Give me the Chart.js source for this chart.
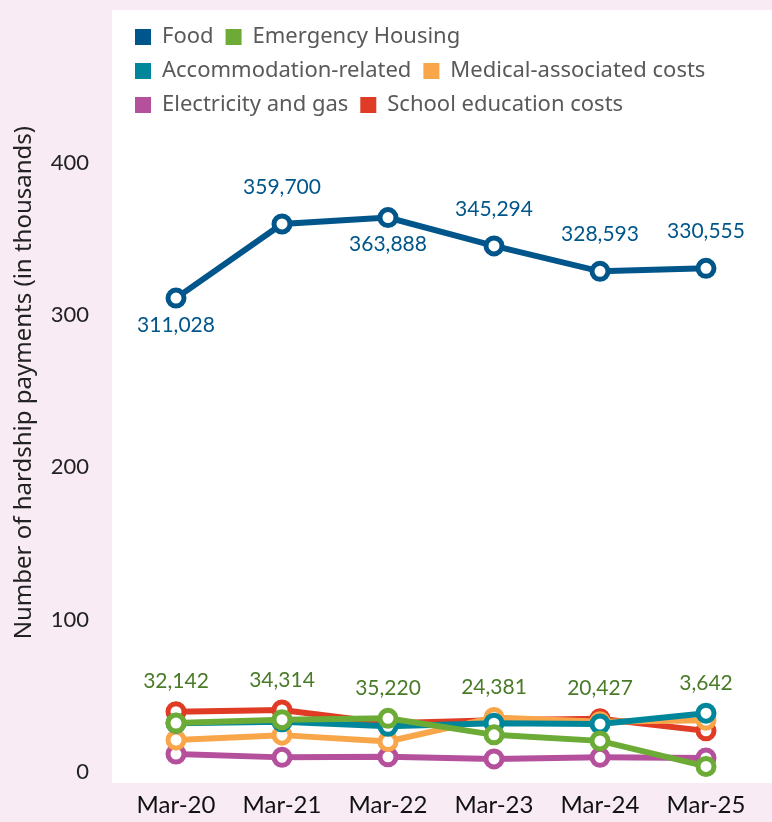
<!DOCTYPE html>
<html lang="en">
<head>
<meta charset="UTF-8">
<title>Hardship payments</title>
<script src="https://cdn.jsdelivr.net/npm/chart.js"></script>
<style>
  body { margin: 0; background: #f8ebf4; }
  canvas { display: block; }
</style>
</head>
<body>
<canvas id="hardshipChart" width="772" height="822"></canvas>
<script>
// values in thousands of payments
const years = ['Mar-20', 'Mar-21', 'Mar-22', 'Mar-23', 'Mar-24', 'Mar-25'];
const food = [311.028, 359.700, 363.888, 345.294, 328.593, 330.555];
const emergencyHousing = [32.142, 34.314, 35.220, 24.381, 20.427, 3.642];
const accommodation = [32, 33, 30, 32, 31.5, 38.6];
const medical = [21, 24.2, 20, 35.8, 33, 34];
const electricity = [11.8, 9.6, 10, 8.6, 9.6, 9.2];
const school = [39.6, 40.7, 32, 34, 35, 27];
const foodLabels = ['311,028', '359,700', '363,888', '345,294', '328,593', '330,555'];
const housingLabels = ['32,142', '34,314', '35,220', '24,381', '20,427', '3,642'];
const yTicks = [0, 100, 200, 300, 400];

const colors = {
    food: '#00568a',
    housing: '#6cab35',
    accommodation: '#00869b',
    medical: '#f9a64a',
    electricity: '#b5509c',
    school: '#e03b24'
};

function series(label, data, color) {
    return {
        label: label,
        data: data,
        borderColor: color,
        backgroundColor: color,
        borderWidth: 6,
        pointRadius: 8,
        pointHoverRadius: 8,
        pointBorderWidth: 5,
        pointBackgroundColor: '#ffffff',
        pointBorderColor: color,
        clip: false
    };
}

// white panel behind plot + legend
const panel = {
    id: 'panel',
    beforeDraw(chart) {
        const { ctx, chartArea } = chart;
        ctx.save();
        ctx.fillStyle = '#ffffff';
        ctx.fillRect(chartArea.left - 11, 10, chart.width - chartArea.left + 11, chartArea.bottom + 1);
        ctx.restore();
    }
};

// value labels for Food and Emergency Housing
const valueLabels = {
    id: 'valueLabels',
    afterDatasetsDraw(chart) {
        const ctx = chart.ctx;
        const foodMeta = chart.getDatasetMeta(0);
        const below = [true, false, true, false, false, false];
        ctx.save();
        ctx.font = '21px Lato';
        ctx.textAlign = 'center';
        ctx.textBaseline = 'middle';
        ctx.fillStyle = colors.food;
        foodMeta.data.forEach((pt, i) => {
            ctx.fillText(foodLabels[i], pt.x, below[i] ? pt.y + 27 : pt.y - 37);
        });
        ctx.fillStyle = '#4a7b28';
        chart.getDatasetMeta(1).data.forEach((pt, i) => {
            let top = pt.y;
            for (let d = 1; d < chart.data.datasets.length; d++) {
                top = Math.min(top, chart.getDatasetMeta(d).data[i].y);
            }
            ctx.fillText(housingLabels[i], pt.x, top - 30);
        });
        ctx.restore();
    }
};

const config = {
    type: 'line',
    data: {
        labels: years,
        datasets: [
            series('Food', food, colors.food),
            series('Emergency Housing', emergencyHousing, colors.housing),
            series('Accommodation-related', accommodation, colors.accommodation),
            series('Medical-associated costs', medical, colors.medical),
            series('Electricity and gas', electricity, colors.electricity),
            series('School education costs', school, colors.school)
        ]
    },
    options: {
        responsive: false,
        animation: false,
        layout: { padding: { top: 14, left: 6, right: 11, bottom: 4 } },
        plugins: {
            tooltip: { enabled: false },
            legend: {
                fullSize: false,
                align: 'start',
                labels: {
                    boxWidth: 16,
                    boxHeight: 16,
                    padding: 12,
                    color: '#58595b',
                    font: { family: 'Noto Sans', size: 22 },
                    generateLabels(chart) {
                        return chart.data.datasets.map((ds, i) => ({
                            text: ds.label,
                            fillStyle: ds.borderColor,
                            strokeStyle: ds.borderColor,
                            lineWidth: 0,
                            fontColor: '#58595b',
                            datasetIndex: i
                        }));
                    }
                }
            }
        },
        scales: {
            x: {
                offset: true,
                grid: { display: false },
                border: { display: false },
                afterFit(scale) { scale.height = 46; },
                ticks: {
                    color: '#111111',
                    padding: 11,
                    font: { family: 'Lato', size: 24 }
                }
            },
            y: {
                min: 0,
                max: 424,
                afterBuildTicks(scale) {
                    scale.ticks = yTicks.map(v => ({ value: v }));
                },
                afterFit(scale) { scale.width = 117; },
                grid: { display: false },
                border: { display: false },
                ticks: {
                    color: '#222222',
                    padding: 26,
                    font: { family: 'Lato', size: 22 }
                },
                title: {
                    display: true,
                    text: 'Number of hardship payments (in thousands)',
                    align: 'end',
                    color: '#222222',
                    padding: { top: 4, bottom: 0 },
                    font: { family: 'Noto Sans', size: 24 }
                }
            }
        }
    },
    plugins: [panel, valueLabels]
};

new Chart(document.getElementById('hardshipChart'), config);
</script>
</body>
</html>
